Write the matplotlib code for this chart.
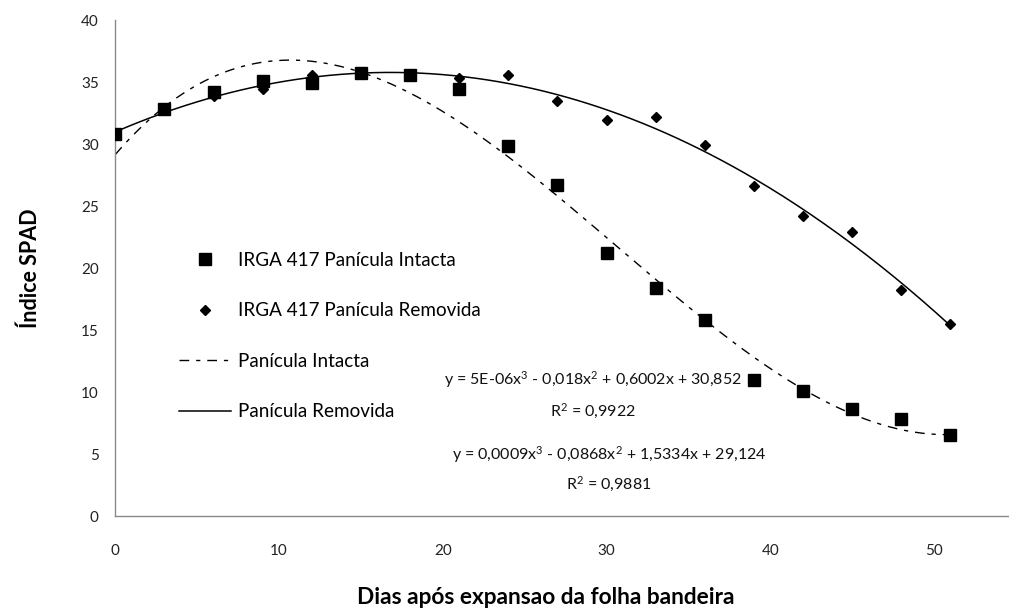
import numpy as np
import matplotlib
matplotlib.use("Agg")
import matplotlib.pyplot as plt
from matplotlib.lines import Line2D

plt.rcParams['font.family'] = ['Lato', 'DejaVu Sans']
plt.rcParams['mathtext.fontset'] = 'custom'
plt.rcParams['mathtext.rm'] = 'Lato'
plt.rcParams['mathtext.it'] = 'Lato'
plt.rcParams['mathtext.default'] = 'regular'

# Days after flag-leaf expansion
dias = [0, 3, 6, 9, 12, 15, 18, 21, 24, 27, 30, 33, 36, 39, 42, 45, 48, 51]

# SPAD index, IRGA 417 with intact panicle
spad_intacta = [30.8, 32.8, 34.2, 35.1, 34.9, 35.7, 35.6, 34.4, 29.8, 26.7,
                21.2, 18.4, 15.8, 11.0, 10.1, 8.6, 7.8, 6.5]

# SPAD index, IRGA 417 with removed panicle
spad_removida = [30.8, 32.8, 33.9, 34.4, 35.6, 35.7, 35.6, 35.3, 35.6, 33.5,
                 31.9, 32.2, 29.9, 26.6, 24.2, 22.9, 18.2, 15.5]

x_ticks = [0, 10, 20, 30, 40, 50]
y_ticks = [0, 5, 10, 15, 20, 25, 30, 35, 40]

eq_removida = "y = 5E-06x$^{3}$ - 0,018x$^{2}$ + 0,6002x + 30,852"
r2_removida = "R$^{2}$ = 0,9922"
eq_intacta = "y = 0,0009x$^{3}$ - 0,0868x$^{2}$ + 1,5334x + 29,124"
r2_intacta = "R$^{2}$ = 0,9881"

W, H = 1009, 615
fig = plt.figure(figsize=(W / 100, H / 100), dpi=100)
ax = fig.add_axes([115.3 / W, 99 / H, (W - 115.3) / W, 496 / H])

x = np.array(dias, dtype=float)
xs = np.linspace(0, 51, 300)

# third-order polynomial trend lines
fit_i = np.polyfit(x, spad_intacta, 3)
fit_r = np.polyfit(x, spad_removida, 3)

dash_i = (7, 5, 3, 5)
ax.plot(xs, np.polyval(fit_i, xs), color='black', lw=1.0,
        dashes=dash_i, zorder=2)
ax.plot(xs, np.polyval(fit_r, xs), color='black', lw=1.1, zorder=2)

ax.plot(x, spad_intacta, ls='none', marker='s', ms=8, color='black', zorder=3)
ax.plot(x, spad_removida, ls='none', marker='D', ms=5.2, color='black', zorder=3)

ax.set_xlim(0, (W - 115.3) / 16.375)
ax.set_ylim(0, 40)
ax.set_xticks(x_ticks)
ax.set_yticks(y_ticks)
ax.tick_params(length=0, labelsize=11, colors='#222222')
ax.tick_params(axis='x', pad=20)
ax.tick_params(axis='y', pad=12)
for side in ('top', 'right'):
    ax.spines[side].set_visible(False)
for side in ('left', 'bottom'):
    ax.spines[side].set_color('#8a8a8a')
    ax.spines[side].set_linewidth(1.0)

fig.text(30 / W, 1 - 268 / H, 'Índice SPAD', rotation=90, ha='center',
         va='center', fontsize=15.5, fontweight='bold')
fig.text(546 / W, 1 - 598 / H, 'Dias após expansao da folha bandeira',
         ha='center', va='center', fontsize=16.3, fontweight='bold')

handles = [
    Line2D([], [], ls='none', marker='s', ms=8, color='black'),
    Line2D([], [], ls='none', marker='D', ms=5.2, color='black'),
    Line2D([], [], color='black', lw=1.0, dashes=dash_i),
    Line2D([], [], color='black', lw=1.1),
]
labels = ['IRGA 417 Panícula Intacta', 'IRGA 417 Panícula Removida',
          'Panícula Intacta', 'Panícula Removida']
ax.legend(handles, labels, loc='upper left',
          bbox_to_anchor=(179 / W, 1 - 252 / H), bbox_transform=fig.transFigure,
          frameon=False, borderpad=0, borderaxespad=0, fontsize=13.6,
          handlelength=2.75, handletextpad=0.4, labelspacing=1.77)

# trend-line equations, placed by pixel position from the top of the figure
for t, (px, py) in [(eq_removida, (593, 380)), (r2_removida, (593, 411)),
                    (eq_intacta, (609, 455)), (r2_intacta, (609, 484))]:
    fig.text(px / W, 1 - py / H, t, fontsize=11.5, ha='center', va='center',
             color='#111111')

fig.savefig('out.png', dpi=100)
